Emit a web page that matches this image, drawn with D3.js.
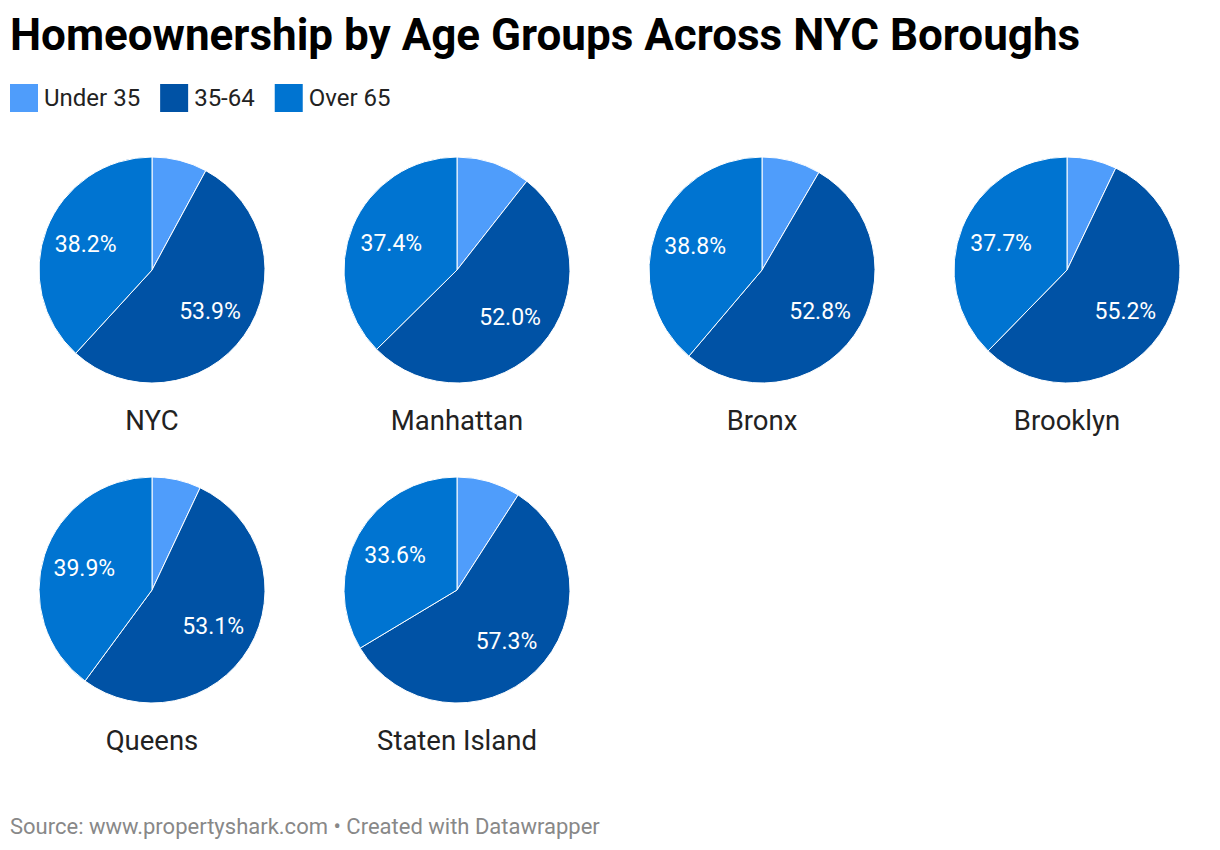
<!DOCTYPE html>
<html>
<head>
<meta charset="utf-8">
<script src="https://cdn.jsdelivr.net/npm/d3@7"></script>
<style>
  body { margin: 0; background: #fff; font-family: Roboto, sans-serif; }
  svg text { font-family: Roboto, sans-serif; }
</style>
</head>
<body>
<svg id="chart"></svg>
<script>
// data
const boroughs = ['NYC', 'Manhattan', 'Bronx', 'Brooklyn', 'Queens', 'Staten Island'];
const groups = ['Under 35', '35-64', 'Over 65'];
const under35 = [7.9, 10.6, 8.4, 7.1, 7.0, 9.1];
const mid3564 = [53.9, 52.0, 52.8, 55.2, 53.1, 57.3];
const over65 = [38.2, 37.4, 38.8, 37.7, 39.9, 33.6];
const colors = ['#4f9dfb', '#0052a5', '#0074d1'];

const width = 1220, height = 850;
const svg = d3.select('#chart').attr('width', width).attr('height', height);

// title
svg.append('text')
  .attr('x', 10).attr('y', 50)
  .attr('font-size', 44).attr('font-weight', 700)
  .attr('fill', '#000')
  .text('Homeownership by Age Groups Across NYC Boroughs');

// legend
const color = d3.scaleOrdinal().domain(groups).range(colors);
let lx = 10;
groups.forEach(g => {
  const item = svg.append('g').attr('transform', `translate(${lx}, 84)`);
  item.append('rect').attr('width', 28).attr('height', 28).attr('fill', color(g));
  const t = item.append('text').attr('x', 34).attr('y', 22)
    .attr('font-size', 24).attr('fill', '#222').text(g);
  lx += 34 + t.node().getComputedTextLength() + 20;
});

// grid of pies
const cols = 4;
const xScale = d3.scaleLinear().domain([0, 1]).range([152, 457]);
const yScale = d3.scaleLinear().domain([0, 1]).range([270, 590]);
const radius = 113;

const pie = d3.pie().sort(null).value(d => d.value);
const arc = d3.arc().innerRadius(0).outerRadius(radius);
const labelArc = d3.arc().innerRadius(radius * 0.63).outerRadius(radius * 0.63);

boroughs.forEach((b, i) => {
  const cx = xScale(i % cols), cy = yScale(Math.floor(i / cols));
  const values = [under35[i], mid3564[i], over65[i]].map((v, k) => ({ group: groups[k], value: v }));
  const g = svg.append('g').attr('transform', `translate(${cx}, ${cy})`);

  const arcs = pie(values);
  g.selectAll('path')
    .data(arcs)
    .join('path')
    .attr('d', arc)
    .attr('fill', d => color(d.data.group))
    .attr('stroke', '#fff')
    .attr('stroke-width', 1);

  // only the two big slices get a label
  g.selectAll('.slice-label')
    .data(arcs.filter(d => d.data.value > 20))
    .join('text')
    .attr('class', 'slice-label')
    .attr('transform', d => `translate(${labelArc.centroid(d)})`)
    .attr('text-anchor', 'middle')
    .attr('dy', '0.35em')
    .attr('font-size', 23)
    .attr('fill', '#fff')
    .text(d => d3.format('.1f')(d.data.value) + '%');

  g.append('text')
    .attr('x', 0).attr('y', radius + 47)
    .attr('text-anchor', 'middle')
    .attr('font-size', 27.5)
    .attr('fill', '#222')
    .text(b);
});

// footer
svg.append('text')
  .attr('x', 10).attr('y', 834)
  .attr('font-size', 22)
  .attr('fill', '#888')
  .text('Source: www.propertyshark.com • Created with Datawrapper');
</script>
</body>
</html>
